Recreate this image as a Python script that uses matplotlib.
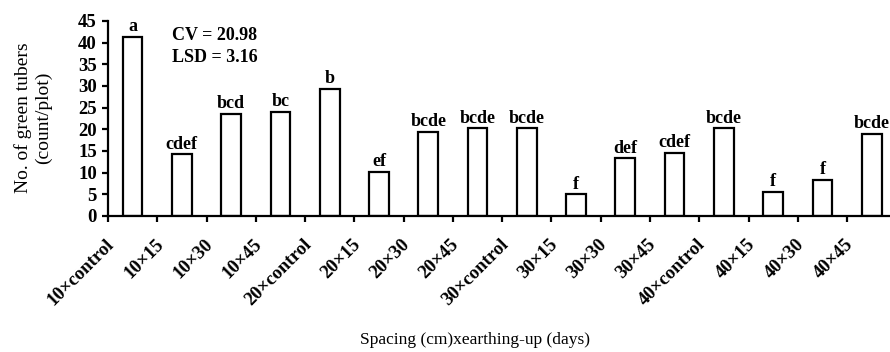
import matplotlib
matplotlib.use("Agg")
import matplotlib.pyplot as plt
from matplotlib.transforms import ScaledTranslation
import numpy as np

categories = ["10×control", "10×15", "10×30", "10×45", "20×control", "20×15", "20×30", "20×45",
              "30×control", "30×15", "30×30", "30×45", "40×control", "40×15", "40×30", "40×45"]
values = [41.3, 14.2, 23.6, 24.0, 29.3, 10.2, 19.4, 20.2, 20.2, 5.0, 13.3, 14.5, 20.2, 5.6, 8.3, 18.9]
letters = ["a", "cdef", "bcd", "bc", "b", "ef", "bcde", "bcde", "bcde", "f", "def", "cdef",
           "bcde", "f", "f", "bcde"]
yticks = [0, 5, 10, 15, 20, 25, 30, 35, 40, 45]

plt.rcParams['font.family'] = ['Liberation Serif', 'DejaVu Serif']

fig = plt.figure(figsize=(8.9, 3.52), dpi=100)
ax = fig.add_axes([0.1213, 0.3864, 0.8858, 0.554])

n = len(categories)
x = np.arange(n) + 0.5
ax.bar(x, values, width=0.4, facecolor='white', edgecolor='black', linewidth=1.6)

for xi, v, lt in zip(x, values, letters):
    ax.text(xi, v + 0.4, lt, ha='center', va='bottom', fontsize=13, fontweight='bold')

ax.set_xlim(0, n)
ax.set_ylim(0, 45)
ax.set_yticks(yticks)
ax.set_yticklabels([str(t) for t in yticks], fontsize=13.5, fontweight='bold')

ax.set_xticks(x)
ax.set_xticklabels(categories, rotation=45, ha='right', va='top', fontsize=13.5, fontweight='bold')
ax.set_xticks(np.arange(n + 1), minor=True)
ax.tick_params(axis='x', which='major', length=0, pad=14)
ax.tick_params(axis='x', which='minor', length=4, width=1.6, direction='out')
ax.tick_params(axis='y', which='major', length=4, width=1.6, direction='out', pad=4)

offset = ScaledTranslation(-15 / 100, 0, fig.dpi_scale_trans)
for lab in ax.get_xticklabels():
    lab.set_transform(lab.get_transform() + offset)

for s in ['top', 'right']:
    ax.spines[s].set_visible(False)
for s in ['left', 'bottom']:
    ax.spines[s].set_linewidth(1.6)

ax.text(0.081, 0.928, "CV = 20.98", transform=ax.transAxes, ha='left', va='center',
        fontsize=13, fontweight='bold')
ax.text(0.081, 0.815, "LSD = 3.16", transform=ax.transAxes, ha='left', va='center',
        fontsize=13, fontweight='bold')

fig.text(0.037, 0.665, "No. of green tubers\n(count/plot)", rotation=90, ha='center', va='center',
         fontsize=14, multialignment='center', linespacing=1.2)
fig.text(0.534, 0.034, "Spacing (cm)xearthing-up (days)", ha='center', va='center', fontsize=12.5)

fig.savefig("out.png", dpi=100)
